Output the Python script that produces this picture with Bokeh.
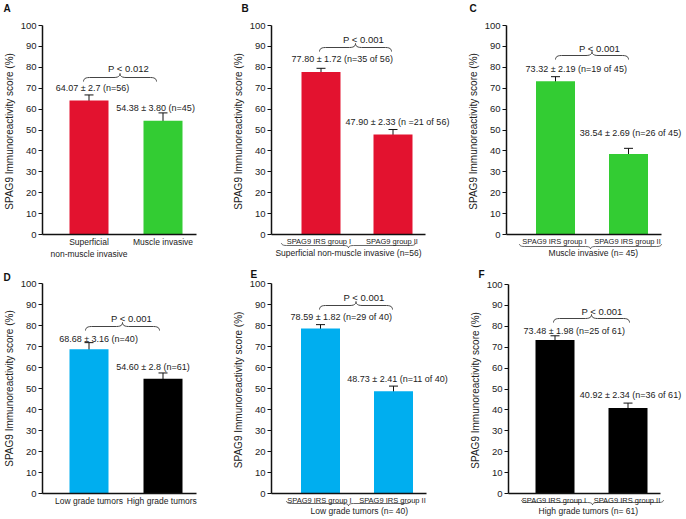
from bokeh.plotting import figure
from bokeh.models import Range1d, FixedTicker, ColumnDataSource, Whisker, TeeHead
from bokeh.layouts import row, column
from bokeh.embed import file_html
from bokeh.resources import INLINE
from bokeh.core.properties import value

FONT = "Liberation Sans"
RED, GREEN, BLUE, BLACK = "#E3122F", "#33CC33", "#00AEEF", "#000000"
Y_LABEL = "SPAG9 Immunoreactivity  score (%)"
Y_TICKS = [0, 10, 20, 30, 40, 50, 60, 70, 80, 90, 100]

# ---------------- data ----------------
a_categories = ["Superficial\nnon-muscle invasive", "Muscle invasive"]
a_means = [64.07, 54.38]
a_sems = [2.7, 3.80]
a_texts = ["64.07 ± 2.7 (n=56)", "54.38 ± 3.80 (n=45)"]
a_p = "P < 0.012"

b_categories = ["SPAG9  IRS  group I", "SPAG9  group II"]
b_means = [77.80, 47.90]
b_sems = [1.72, 2.33]
b_texts = ["77.80 ± 1.72 (n=35 of  56)", "47.90 ± 2.33 (n =21 of 56)"]
b_p = "P < 0.001"
b_group = "Superficial non-muscle invasive (n=56)"

c_categories = ["SPAG9  IRS group I", "SPAG9  IRS group II"]
c_means = [73.32, 38.54]
c_sems = [2.19, 2.69]
c_texts = ["73.32 ± 2.19 (n=19 of  45)", "38.54 ± 2.69 (n=26 of 45)"]
c_p = "P < 0.001"
c_group = "Muscle  invasive (n= 45)"

d_categories = ["Low grade tumors", "High  grade tumors"]
d_means = [68.68, 54.60]
d_sems = [3.16, 2.8]
d_texts = ["68.68 ± 3.16 (n=40)", "54.60 ± 2.8 (n=61)"]
d_p = "P < 0.001"

e_categories = ["SPAG9  IRS group I", "SPAG9  IRS group II"]
e_means = [78.59, 48.73]
e_sems = [1.82, 2.41]
e_texts = ["78.59 ± 1.82 (n=29 of  40)", "48.73 ± 2.41 (n=11 of 40)"]
e_p = "P < 0.001"
e_group = "Low grade  tumors (n= 40)"

f_categories = ["SPAG9  IRS group I", "SPAG9  IRS group II"]
f_means = [73.48, 40.92]
f_sems = [1.98, 2.34]
f_texts = ["73.48 ± 1.98 (n=25 of  61)", "40.92 ± 2.34 (n=36 of 61)"]
f_p = "P < 0.001"
f_group = "High grade  tumors (n= 61)"

# ---------------- layout (page pixels) ----------------
# geo: left, top, width, height, y-axis x, bar1 centre, bar2 centre, y=100 px, y=0 px
LAYOUT = {
    "A": dict(geo=(0, 0, 228, 258, 42, 88.5, 162.5, 25, 234), letter=(3, 8),
              p=(128, 68), brace=(83, 156, 77), t1=(92, 87), t2=(155, 107), gbrace=None, g=None),
    "B": dict(geo=(228, 0, 228, 258, 271, 320.5, 392.5, 25, 234), letter=(241, 8),
              p=(363, 39), brace=(319, 391, 47), t1=(343, 58), t2=(397, 121),
              gbrace=(281, 415, 245), g=(348, 252)),
    "C": dict(geo=(456, 0, 229, 258, 506, 555, 628, 25, 234), letter=(469, 8),
              p=(599, 48), brace=(555, 628, 55), t1=(577, 68), t2=(630, 132),
              gbrace=(519, 661, 246), g=(594, 252)),
    "D": dict(geo=(0, 258, 228, 260, 42, 88.5, 162.5, 283, 493), letter=(3, 277),
              p=(131, 318), brace=(85, 159, 326), t1=(98, 338), t2=(152.5, 366), gbrace=None, g=None),
    "E": dict(geo=(228, 258, 228, 260, 271, 320, 393, 283, 493), letter=(250, 274),
              p=(363.5, 297), brace=(319, 392, 305), t1=(342, 316), t2=(397, 378),
              gbrace=(286, 410, 503), g=(360, 510)),
    "F": dict(geo=(456, 258, 229, 260, 508, 554.5, 627.5, 284, 493), letter=(478, 274),
              p=(601.5, 311), brace=(553, 629, 318), t1=(575, 330), t2=(630, 394),
              gbrace=(521, 663, 502), g=(589, 510)),
}
BAR_PX = 39


def quad(p0, p1, p2, n=6):
    pts = []
    for i in range(n + 1):
        t = i / n
        x = (1 - t) ** 2 * p0[0] + 2 * (1 - t) * t * p1[0] + t ** 2 * p2[0]
        y = (1 - t) ** 2 * p0[1] + 2 * (1 - t) * t * p1[1] + t ** 2 * p2[1]
        pts.append((x, y))
    return pts


def brace_px(x0, x1, yb, tip_up=True, h=4, r=6):
    s = -1 if tip_up else 1  # tip direction in screen y
    xm = (x0 + x1) / 2
    pts = []
    pts += quad((x0, yb - s * h), (x0, yb), (x0 + r, yb))
    pts += quad((xm - r, yb), (xm, yb), (xm, yb + s * h))
    pts += quad((xm, yb + s * h), (xm, yb), (xm + r, yb))
    pts += quad((x1 - r, yb), (x1, yb), (x1, yb - s * h))
    return pts


def panel(letter, cats, means, sems, texts, ptext, group, colors):
    L = LAYOUT[letter]
    left, top, w, h, ax, c1, c2, y100, y0 = L["geo"]
    xppu = c2 - c1
    yppu = (y0 - y100) / 100.0

    def X(px):
        return 1 + (px - c1) / xppu

    def Y(py):
        return (y0 - py) / yppu

    p = figure(width=w, height=h, x_range=Range1d(X(left), X(left + w)),
               y_range=Range1d(Y(top + h), Y(top)), output_backend="svg",
               toolbar_location=None, min_border=0, tools="")
    p.outline_line_color = None
    p.xgrid.visible = False
    p.ygrid.visible = False
    p.background_fill_color = "white"
    p.border_fill_color = "white"

    xs = [1, 2]
    src = ColumnDataSource(dict(x=xs, top=means, color=colors,
                                upper=[m + s for m, s in zip(means, sems)],
                                lower=[m - s for m, s in zip(means, sems)]))
    p.vbar(x="x", top="top", width=BAR_PX / xppu, fill_color="color", line_color=None, source=src)
    p.add_layout(Whisker(base="x", upper="upper", lower="lower", source=src,
                         line_color="#111111", line_width=1,
                         upper_head=TeeHead(size=9, line_color="#111111", line_width=1),
                         lower_head=TeeHead(size=9, line_color="#111111", line_width=1)))

    # y axis
    ya = p.yaxis[0]
    ya.fixed_location = X(ax)
    ya.bounds = (0, 100)
    ya.ticker = FixedTicker(ticks=Y_TICKS)
    ya.minor_tick_line_color = None
    ya.major_tick_out = 4
    ya.major_tick_in = 0
    ya.axis_line_width = 1.5
    ya.axis_line_color = "#111111"
    ya.major_tick_line_color = "#111111"
    ya.major_label_text_font = FONT
    ya.major_label_text_font_size = "9.5px"
    ya.major_label_text_color = "#222222"
    ya.major_label_standoff = 2
    ya.axis_label = "SPAG9 Immunoreactivity score (%)" if letter == "D" else Y_LABEL
    ya.axis_label_text_font = FONT
    ya.axis_label_text_font_size = "10px"
    ya.axis_label_text_font_style = "normal"
    ya.axis_label_text_color = "#222222"
    ya.axis_label_standoff = 3

    # x axis
    xa = p.xaxis[0]
    xa.fixed_location = 0
    xa.bounds = (X(ax), 2.45)
    xa.ticker = FixedTicker(ticks=xs)
    xa.major_label_overrides = {1: cats[0], 2: cats[1]}
    xa.minor_tick_line_color = None
    xa.major_tick_out = 0
    xa.major_tick_in = 0
    xa.axis_line_width = 1.5
    xa.axis_line_color = "#111111"
    xa.major_label_text_font = FONT
    xa.major_label_text_font_size = "8.5px" if group is None else "7.5px"
    xa.major_label_text_color = "#222222"
    xa.major_label_standoff = 2

    # panel letter
    lx, ly = L["letter"]
    p.text(x=[X(lx)], y=[Y(ly)], text=[letter], text_font=value(FONT), text_font_style="bold",
           text_font_size="10px", text_align="left", text_baseline="middle", text_color="#111111")

    # value labels
    (t1x, t1y), (t2x, t2y) = L["t1"], L["t2"]
    p.text(x=[X(t1x), X(t2x)], y=[Y(t1y), Y(t2y)], text=texts, text_font=value(FONT),
           text_font_size="9px", text_align="center", text_baseline="middle", text_color="#222222")

    # P value and brace
    px_, py_ = L["p"]
    p.text(x=[X(px_)], y=[Y(py_)], text=[ptext], text_font=value(FONT),
           text_font_size="9.5px", text_align="center", text_baseline="middle", text_color="#222222")
    bx0, bx1, by = L["brace"]
    pts = brace_px(bx0, bx1, by, tip_up=True)
    p.line([X(a) for a, b in pts], [Y(b) for a, b in pts], line_color="#444444", line_width=1)

    # group brace and label under the category labels
    if group is not None:
        gx0, gx1, gy = L["gbrace"]
        pts = brace_px(gx0, gx1, gy, tip_up=False, h=2.5, r=5)
        p.line([X(a) for a, b in pts], [Y(b) for a, b in pts], line_color="#444444", line_width=0.8)
        gxx, gyy = L["g"]
        p.text(x=[X(gxx)], y=[Y(gyy)], text=[group], text_font=value(FONT),
               text_font_size="8.5px", text_align="center", text_baseline="middle", text_color="#222222")
    return p


pA = panel("A", a_categories, a_means, a_sems, a_texts, a_p, None, [RED, GREEN])
pB = panel("B", b_categories, b_means, b_sems, b_texts, b_p, b_group, [RED, RED])
pC = panel("C", c_categories, c_means, c_sems, c_texts, c_p, c_group, [GREEN, GREEN])
pD = panel("D", d_categories, d_means, d_sems, d_texts, d_p, None, [BLUE, BLACK])
pE = panel("E", e_categories, e_means, e_sems, e_texts, e_p, e_group, [BLUE, BLUE])
pF = panel("F", f_categories, f_means, f_sems, f_texts, f_p, f_group, [BLACK, BLACK])

layout = column(row(pA, pB, pC), row(pD, pE, pF))
open("out.html", "w").write(file_html(layout, INLINE))
